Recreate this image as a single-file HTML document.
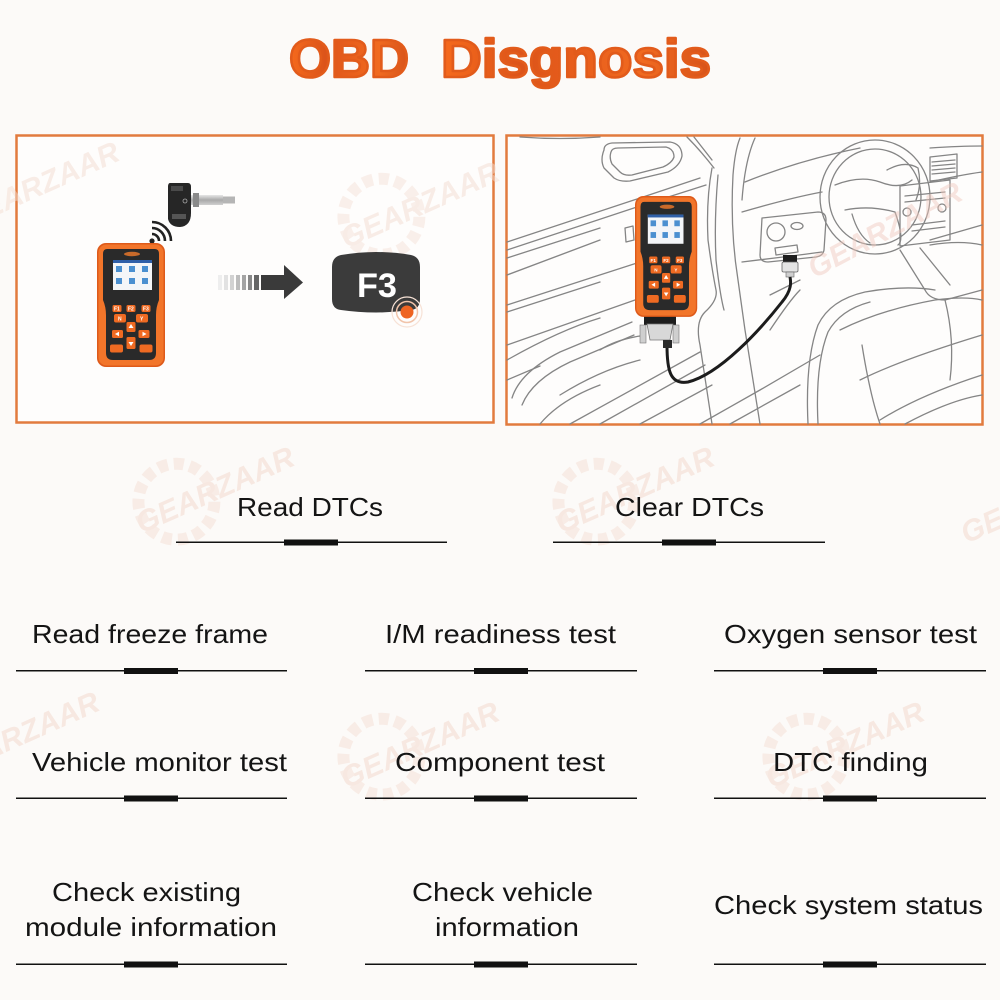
<!DOCTYPE html>
<html>
<head>
<meta charset="utf-8">
<style>
  html, body { margin: 0; padding: 0; background: #fcfaf8; }
  svg { display: block; }
  .lbl { font-family: "Liberation Sans", Arial, sans-serif; font-size: 26px; fill: #141414; }
  .wm { font-family: "Liberation Sans", Arial, sans-serif; font-weight: bold; font-style: italic; font-size: 30px; fill: #f3ddd2; }
  .btn { font-family: "Liberation Sans", Arial, sans-serif; font-size: 5px; fill: #fff; font-weight: bold; }
</style>
</head>
<body>
<svg width="1000" height="1000" viewBox="0 0 1000 1000" xmlns="http://www.w3.org/2000/svg">
  <defs>
    <linearGradient id="tg" x1="0" y1="0" x2="1" y2="0">
      <stop offset="0" stop-color="#f66a1c"/>
      <stop offset="0.3" stop-color="#dc541a"/>
      <stop offset="0.5" stop-color="#e85e1c"/>
      <stop offset="0.75" stop-color="#f06a20"/>
      <stop offset="1" stop-color="#d7531a"/>
    </linearGradient>
    <linearGradient id="silver" x1="0" y1="0" x2="0" y2="1">
      <stop offset="0" stop-color="#e6e6e6"/>
      <stop offset="0.5" stop-color="#a9a9a9"/>
      <stop offset="1" stop-color="#d0d0d0"/>
    </linearGradient>
  </defs>

  <rect x="0" y="0" width="1000" height="1000" fill="#fcfaf8"/>

  <!-- watermarks -->
  <g opacity="0.6">
    <g transform="translate(215,490) rotate(-24)">
      <circle cx="-40" cy="-5" r="38" fill="none" stroke="#f6e3da" stroke-width="12" stroke-dasharray="10 6"/>
      <text class="wm" x="-85" y="10">GEARZAAR</text>
    </g>
    <g transform="translate(635,490) rotate(-24)">
      <circle cx="-40" cy="-5" r="38" fill="none" stroke="#f6e3da" stroke-width="12" stroke-dasharray="10 6"/>
      <text class="wm" x="-85" y="10">GEARZAAR</text>
    </g>
    <g transform="translate(420,745) rotate(-24)">
      <circle cx="-40" cy="-5" r="38" fill="none" stroke="#f6e3da" stroke-width="12" stroke-dasharray="10 6"/>
      <text class="wm" x="-85" y="10">GEARZAAR</text>
    </g>
    <g transform="translate(845,745) rotate(-24)">
      <circle cx="-40" cy="-5" r="38" fill="none" stroke="#f6e3da" stroke-width="12" stroke-dasharray="10 6"/>
      <text class="wm" x="-85" y="10">GEARZAAR</text>
    </g>
    <g transform="translate(20,735) rotate(-24)">
      <text class="wm" x="-85" y="10">GEARZAAR</text>
    </g>
    <g transform="translate(1040,500) rotate(-24)">
      <text class="wm" x="-85" y="10">GEARZAAR</text>
    </g>
  </g>

  <!-- Title -->
  <text x="289" y="77" font-family="Liberation Sans, Arial, sans-serif" font-weight="bold" font-size="54" fill="url(#tg)" stroke="#e25b1b" stroke-width="2.6" stroke-linejoin="round" textLength="120" lengthAdjust="spacingAndGlyphs">OBD</text>
  <text x="441" y="77" font-family="Liberation Sans, Arial, sans-serif" font-weight="bold" font-size="54" fill="url(#tg)" stroke="#e25b1b" stroke-width="2.6" stroke-linejoin="round" textLength="270" lengthAdjust="spacingAndGlyphs">Disgnosis</text>

  <!-- LEFT PANEL -->
  <rect x="16.5" y="135.5" width="477" height="287" fill="#fefdfc" stroke="#e27b3e" stroke-width="2.5"/>
  <g opacity="0.5">
    <g transform="translate(420,205) rotate(-24)">
      <circle cx="-40" cy="-5" r="38" fill="none" stroke="#f6e3da" stroke-width="12" stroke-dasharray="10 6"/>
      <text class="wm" x="-85" y="10">GEARZAAR</text>
    </g>
    <g transform="translate(40,185) rotate(-24)">
      <text class="wm" x="-85" y="10">GEARZAAR</text>
    </g>
  </g>

  <!-- TPMS sensor -->
  <path d="M170,183 H188 Q191,183 191,187 V213 Q191,226 180,227 Q170,227 168,219 V187 Q168,183 170,183 Z" fill="#262626"/>
  <rect x="171" y="186" width="12" height="5" fill="#4a4a4a"/>
  <rect x="172" y="214" width="14" height="5" fill="#555"/>
  <circle cx="185" cy="201" r="2" fill="none" stroke="#aaa" stroke-width="0.8"/>
  <rect x="191" y="195" width="32" height="10" fill="url(#silver)"/>
  <rect x="193" y="193" width="6" height="14" fill="#8a8a8a"/>
  <rect x="223" y="196.5" width="12" height="7" fill="#b5b5b5"/>

  <!-- wifi -->
  <circle cx="152" cy="241" r="2.6" fill="#222"/>
  <path d="M152,234 A7,7 0 0 1 159,241" fill="none" stroke="#222" stroke-width="2.6"/>
  <path d="M152,228 A13,13 0 0 1 165,241" fill="none" stroke="#222" stroke-width="2.6"/>
  <path d="M152,222 A19,19 0 0 1 171,241" fill="none" stroke="#222" stroke-width="2.6"/>

  <!-- Device left -->
  <g transform="translate(97,243)">
    <rect x="0" y="0" width="68" height="124" rx="9" fill="#de5a1a"/>
    <rect x="1.5" y="1.5" width="65" height="121" rx="8" fill="#f2752a"/>
    <path d="M10,6 H58 Q62,6 62,11 V57 Q59,64 59,72 V110 Q59,117 52,117 H16 Q9,117 9,110 V72 Q9,64 6,57 V11 Q6,6 10,6 Z" fill="#2a2a2a"/>
    <ellipse cx="35" cy="11" rx="8" ry="2.2" fill="#c96a2a"/>
    <rect x="16" y="17" width="39" height="30" fill="#f3f5f8"/>
    <rect x="16" y="17" width="39" height="3" fill="#2f5fa8"/>
    <rect x="19" y="23" width="6" height="6" fill="#4a8fd0"/>
    <rect x="32" y="23" width="6" height="6" fill="#4a8fd0"/>
    <rect x="45" y="23" width="6" height="6" fill="#4a8fd0"/>
    <rect x="19" y="35" width="6" height="6" fill="#4a8fd0"/>
    <rect x="32" y="35" width="6" height="6" fill="#4a8fd0"/>
    <rect x="45" y="35" width="6" height="6" fill="#4a8fd0"/>
    <rect x="15.5" y="62" width="9" height="7" rx="1.5" fill="#ef6a22"/>
    <rect x="29.5" y="62" width="9" height="7" rx="1.5" fill="#ef6a22"/>
    <rect x="44.5" y="62" width="9" height="7" rx="1.5" fill="#ef6a22"/>
    <text class="btn" x="17" y="67.5">F1</text>
    <text class="btn" x="31" y="67.5">F2</text>
    <text class="btn" x="46" y="67.5">F3</text>
    <rect x="17" y="71" width="12" height="8.5" rx="2" fill="#ef6a22"/>
    <rect x="39" y="71" width="12" height="8.5" rx="2" fill="#ef6a22"/>
    <text class="btn" x="21" y="77.5">N</text>
    <text class="btn" x="43" y="77.5">Y</text>
    <rect x="29.5" y="79" width="9" height="10" rx="1.5" fill="#ef6a22"/>
    <rect x="15" y="87" width="11" height="8" rx="1.5" fill="#ef6a22"/>
    <rect x="41.5" y="87" width="11" height="8" rx="1.5" fill="#ef6a22"/>
    <rect x="29.5" y="94" width="9" height="12" rx="1.5" fill="#ef6a22"/>
    <rect x="13" y="101.5" width="13" height="8" rx="2" fill="#ef6a22"/>
    <rect x="42.5" y="101.5" width="13" height="8" rx="2" fill="#ef6a22"/>
    <path d="M34,81 L36.5,85 H31.5 Z" fill="#fff"/>
    <path d="M34,103 L36.5,99 H31.5 Z" fill="#fff"/>
    <path d="M18,91 L22,88.8 V93.2 Z" fill="#fff"/>
    <path d="M49.5,91 L45.5,88.8 V93.2 Z" fill="#fff"/>
  </g>

  <!-- Arrow -->
  <rect x="218" y="275" width="4" height="15" fill="#eeeeee"/>
  <rect x="224" y="275" width="4" height="15" fill="#e2e2e2"/>
  <rect x="230" y="275" width="4" height="15" fill="#d2d2d2"/>
  <rect x="236" y="275" width="4" height="15" fill="#bdbdbd"/>
  <rect x="242" y="275" width="4" height="15" fill="#a4a4a4"/>
  <rect x="248" y="275" width="4" height="15" fill="#888"/>
  <rect x="254" y="275" width="5" height="15" fill="#666"/>
  <rect x="261" y="275" width="25" height="15" fill="#3a3a3a"/>
  <path d="M284,265 L303,282.5 L284,299 Z" fill="#3a3a3a"/>

  <!-- F3 badge -->
  <path d="M341,255 Q376,249 411,255 Q420,257 420,267 L420,299 Q420,309 411,310 Q376,315 341,310 Q332,309 332,299 L332,267 Q332,257 341,255 Z" fill="#3b3b3b"/>
  <text x="357" y="297" font-family="Liberation Sans, Arial, sans-serif" font-weight="bold" font-size="34" fill="#ffffff" textLength="40" lengthAdjust="spacingAndGlyphs">F3</text>
  <circle cx="407" cy="312" r="15" fill="none" stroke="#f7e2d6" stroke-width="1.2"/>
  <circle cx="407" cy="312" r="10.5" fill="none" stroke="#f1c4aa" stroke-width="1.5"/>
  <circle cx="407" cy="312" r="6.5" fill="#ee6422"/>

  <!-- RIGHT PANEL -->
  <rect x="506.5" y="135.5" width="476" height="289" fill="#fefdfc" stroke="#e27b3e" stroke-width="2.5"/>

  <g fill="none" stroke="#858585" stroke-width="1.3" stroke-linejoin="round" stroke-linecap="round">
    <path d="M520,137 Q560,140 600,137"/>
    <path d="M687,137 Q700,150 714,168"/>
    <path d="M694,137 L712,160"/>
    <path d="M604,150 Q604,144 612,143 L670,142 Q682,144 682,156 Q680,166 668,172 L630,181 Q620,182 614,178 L604,168 Q600,160 604,150 Z"/>
    <path d="M611,152 Q612,148 618,148 L666,147 Q674,149 674,157 Q672,163 663,167 L632,175 Q624,176 620,172 L612,164 Q609,158 611,152 Z"/>
    <path d="M507,242 L640,198 L700,178"/>
    <path d="M507,250 L640,206 L706,185"/>
    <path d="M507,258 L600,228"/>
    <path d="M625,228 L633,226 L634,240 L626,242 Z"/>
    <path d="M712,168 Q706,200 708,240 Q712,270 716,290 Q718,300 705,312 Q695,322 700,345 L712,424"/>
    <path d="M718,175 Q714,220 716,260 Q720,295 724,310"/>
    <path d="M740,138 Q735,150 733,175 Q730,230 738,280 L745,330 L760,424"/>
    <path d="M755,138 Q745,160 742,200"/>
    <path d="M507,305 L640,262"/>
    <path d="M507,312 L600,282"/>
    <path d="M507,345 L635,300"/>
    <path d="M512,398 Q520,372 560,352 L632,322"/>
    <path d="M522,405 Q532,380 570,362 L634,335"/>
    <path d="M600,350 Q615,340 640,336"/>
    <path d="M560,395 Q600,370 640,360"/>
    <path d="M507,380 L540,366"/>
    <path d="M570,424 L700,352"/>
    <path d="M600,424 L705,365"/>
    <path d="M640,424 L712,385"/>
    <path d="M700,424 L760,390 L820,355"/>
    <path d="M730,424 L800,385"/>
    <path d="M745,182 Q800,160 860,148"/>
    <path d="M930,148 Q960,146 982,146"/>
    <path d="M742,212 Q790,198 822,192"/>
    <path d="M930,182 Q960,175 982,172"/>
    <path d="M742,262 Q800,255 822,252"/>
    <path d="M930,240 L982,225"/>
    <path d="M762,218 L818,212 Q826,212 826,220 L824,250 Q823,256 816,257 L768,262 Q760,262 760,255 Z"/>
    <circle cx="776" cy="232" r="9"/>
    <ellipse cx="797" cy="226" rx="6" ry="3.5"/>
    <path d="M775,248 L797,245 L798,252 L776,255 Z"/>
    <ellipse cx="875" cy="197" rx="55" ry="57"/>
    <ellipse cx="875" cy="197" rx="46" ry="48"/>
    <path d="M835,185 Q860,175 880,182 Q900,190 912,180"/>
    <path d="M845,210 Q870,205 895,212 Q905,240 898,245"/>
    <path d="M852,214 Q858,235 870,243"/>
    <path d="M887,170 Q905,160 918,168 Q922,185 916,200"/>
    <path d="M930,157 L957,154 L957,178 L930,181 Z"/>
    <path d="M932,162 L955,160 M932,166 L955,164 M932,170 L955,168 M932,174 L955,172"/>
    <path d="M900,186 L950,180 L950,240 L900,246 Z"/>
    <circle cx="907" cy="212" r="4"/>
    <circle cx="942" cy="208" r="4"/>
    <path d="M905,196 L945,192 M905,202 L945,198 M912,225 L945,221 M912,231 L945,227"/>
    <path d="M900,250 L925,290 Q930,300 945,300 L982,290"/>
    <path d="M920,248 L950,285"/>
    <path d="M930,245 Q960,240 982,245"/>
    <path d="M808,424 Q805,360 818,325 Q830,300 865,292 Q905,285 935,290"/>
    <path d="M818,424 Q815,365 828,332 Q840,310 870,302"/>
    <path d="M840,330 Q880,310 935,300 Q965,296 982,300"/>
    <path d="M860,380 Q900,360 982,335"/>
    <path d="M880,420 Q920,395 982,375"/>
    <path d="M945,300 Q955,340 950,380"/>
    <path d="M905,424 Q950,400 982,395"/>
    <path d="M862,345 Q870,395 880,424"/>
    <path d="M507,275 L600,240"/>
    <path d="M507,360 Q560,330 600,318"/>
    <path d="M540,424 Q560,400 600,385"/>
    <path d="M770,330 Q790,300 800,290"/>
    <path d="M770,295 L800,280"/>
  </g>

  <g transform="translate(885,230) rotate(-28)" opacity="0.45">
    <text class="wm" x="-85" y="10" style="fill:#f0c8bc">GEARZAAR</text>
  </g>

  <!-- OBD connector at port -->
  <rect x="783" y="255" width="14" height="7" fill="#1e1e1e"/>
  <rect x="782" y="262" width="16" height="10" rx="1.5" fill="#e4e4e4" stroke="#666" stroke-width="0.8"/>
  <rect x="786" y="272" width="8" height="5" fill="#cfcfcf" stroke="#666" stroke-width="0.6"/>

  <!-- cable -->
  <path d="M667,345 C667,370 670,385 688,382 C720,374 760,330 782,302 C792,290 791,282 790,277" fill="none" stroke="#1c1c1c" stroke-width="3"/>

  <!-- DB connector under device -->
  <rect x="644" y="316" width="32" height="9" fill="#1d1d1d"/>
  <rect x="640" y="325" width="6" height="18" fill="#cfcfcf" stroke="#777" stroke-width="0.6"/>
  <rect x="673" y="325" width="6" height="18" fill="#cfcfcf" stroke="#777" stroke-width="0.6"/>
  <path d="M647,324 H673 L670,340 H650 Z" fill="#d8d8d8" stroke="#777" stroke-width="0.8"/>
  <rect x="663" y="340" width="9" height="8" fill="#2a2a2a"/>

  <!-- Device right -->
  <g transform="translate(635,196) scale(0.915,0.975)">
    <rect x="0" y="0" width="68" height="124" rx="9" fill="#de5a1a"/>
    <rect x="1.5" y="1.5" width="65" height="121" rx="8" fill="#f2752a"/>
    <path d="M10,6 H58 Q62,6 62,11 V57 Q59,64 59,72 V110 Q59,117 52,117 H16 Q9,117 9,110 V72 Q9,64 6,57 V11 Q6,6 10,6 Z" fill="#2a2a2a"/>
    <ellipse cx="35" cy="11" rx="8" ry="2.2" fill="#c96a2a"/>
    <rect x="14" y="19" width="39" height="30" fill="#f3f5f8"/>
    <rect x="14" y="19" width="39" height="3" fill="#2f5fa8"/>
    <rect x="17" y="25" width="6" height="6" fill="#4a8fd0"/>
    <rect x="30" y="25" width="6" height="6" fill="#4a8fd0"/>
    <rect x="43" y="25" width="6" height="6" fill="#4a8fd0"/>
    <rect x="17" y="37" width="6" height="6" fill="#4a8fd0"/>
    <rect x="30" y="37" width="6" height="6" fill="#4a8fd0"/>
    <rect x="43" y="37" width="6" height="6" fill="#4a8fd0"/>
    <rect x="15.5" y="62" width="9" height="7" rx="1.5" fill="#ef6a22"/>
    <rect x="29.5" y="62" width="9" height="7" rx="1.5" fill="#ef6a22"/>
    <rect x="44.5" y="62" width="9" height="7" rx="1.5" fill="#ef6a22"/>
    <text class="btn" x="17" y="67.5">F1</text>
    <text class="btn" x="31" y="67.5">F2</text>
    <text class="btn" x="46" y="67.5">F3</text>
    <rect x="17" y="71" width="12" height="8.5" rx="2" fill="#ef6a22"/>
    <rect x="39" y="71" width="12" height="8.5" rx="2" fill="#ef6a22"/>
    <text class="btn" x="21" y="77.5">N</text>
    <text class="btn" x="43" y="77.5">Y</text>
    <rect x="29.5" y="79" width="9" height="10" rx="1.5" fill="#ef6a22"/>
    <rect x="15" y="87" width="11" height="8" rx="1.5" fill="#ef6a22"/>
    <rect x="41.5" y="87" width="11" height="8" rx="1.5" fill="#ef6a22"/>
    <rect x="29.5" y="94" width="9" height="12" rx="1.5" fill="#ef6a22"/>
    <rect x="13" y="101.5" width="13" height="8" rx="2" fill="#ef6a22"/>
    <rect x="42.5" y="101.5" width="13" height="8" rx="2" fill="#ef6a22"/>
    <path d="M34,81 L36.5,85 H31.5 Z" fill="#fff"/>
    <path d="M34,103 L36.5,99 H31.5 Z" fill="#fff"/>
    <path d="M18,91 L22,88.8 V93.2 Z" fill="#fff"/>
    <path d="M49.5,91 L45.5,88.8 V93.2 Z" fill="#fff"/>
  </g>

  <!-- LABELS -->
  <text class="lbl" x="237" y="516" textLength="146" lengthAdjust="spacingAndGlyphs">Read DTCs</text>
  <text class="lbl" x="615" y="516" textLength="149" lengthAdjust="spacingAndGlyphs">Clear DTCs</text>
  <rect x="176" y="541.5" width="271" height="1.5" fill="#111"/>
  <rect x="284" y="539.5" width="54" height="6" fill="#111"/>
  <rect x="553" y="541.5" width="272" height="1.5" fill="#111"/>
  <rect x="662" y="539.5" width="54" height="6" fill="#111"/>

  <text class="lbl" x="32" y="643" textLength="236" lengthAdjust="spacingAndGlyphs">Read freeze frame</text>
  <text class="lbl" x="385" y="643" textLength="231" lengthAdjust="spacingAndGlyphs">I/M readiness test</text>
  <text class="lbl" x="724" y="643" textLength="253" lengthAdjust="spacingAndGlyphs">Oxygen sensor test</text>
  <rect x="16" y="670" width="271" height="1.5" fill="#111"/>
  <rect x="124" y="668" width="54" height="6" fill="#111"/>
  <rect x="365" y="670" width="272" height="1.5" fill="#111"/>
  <rect x="474" y="668" width="54" height="6" fill="#111"/>
  <rect x="714" y="670" width="272" height="1.5" fill="#111"/>
  <rect x="823" y="668" width="54" height="6" fill="#111"/>

  <text class="lbl" x="32" y="771" textLength="255" lengthAdjust="spacingAndGlyphs">Vehicle monitor test</text>
  <text class="lbl" x="395" y="771" textLength="210" lengthAdjust="spacingAndGlyphs">Component test</text>
  <text class="lbl" x="773" y="771" textLength="155" lengthAdjust="spacingAndGlyphs">DTC finding</text>
  <rect x="16" y="797.5" width="271" height="1.5" fill="#111"/>
  <rect x="124" y="795.5" width="54" height="6" fill="#111"/>
  <rect x="365" y="797.5" width="272" height="1.5" fill="#111"/>
  <rect x="474" y="795.5" width="54" height="6" fill="#111"/>
  <rect x="714" y="797.5" width="272" height="1.5" fill="#111"/>
  <rect x="823" y="795.5" width="54" height="6" fill="#111"/>

  <text class="lbl" x="52" y="901" textLength="189" lengthAdjust="spacingAndGlyphs">Check existing</text>
  <text class="lbl" x="25" y="936" textLength="252" lengthAdjust="spacingAndGlyphs">module information</text>
  <text class="lbl" x="412" y="901" textLength="181" lengthAdjust="spacingAndGlyphs">Check vehicle</text>
  <text class="lbl" x="435" y="936" textLength="144" lengthAdjust="spacingAndGlyphs">information</text>
  <text class="lbl" x="714" y="914" textLength="269" lengthAdjust="spacingAndGlyphs">Check system status</text>
  <rect x="16" y="963.5" width="271" height="1.5" fill="#111"/>
  <rect x="124" y="961.5" width="54" height="6" fill="#111"/>
  <rect x="365" y="963.5" width="272" height="1.5" fill="#111"/>
  <rect x="474" y="961.5" width="54" height="6" fill="#111"/>
  <rect x="714" y="963.5" width="272" height="1.5" fill="#111"/>
  <rect x="823" y="961.5" width="54" height="6" fill="#111"/>
</svg>
</body>
</html>
